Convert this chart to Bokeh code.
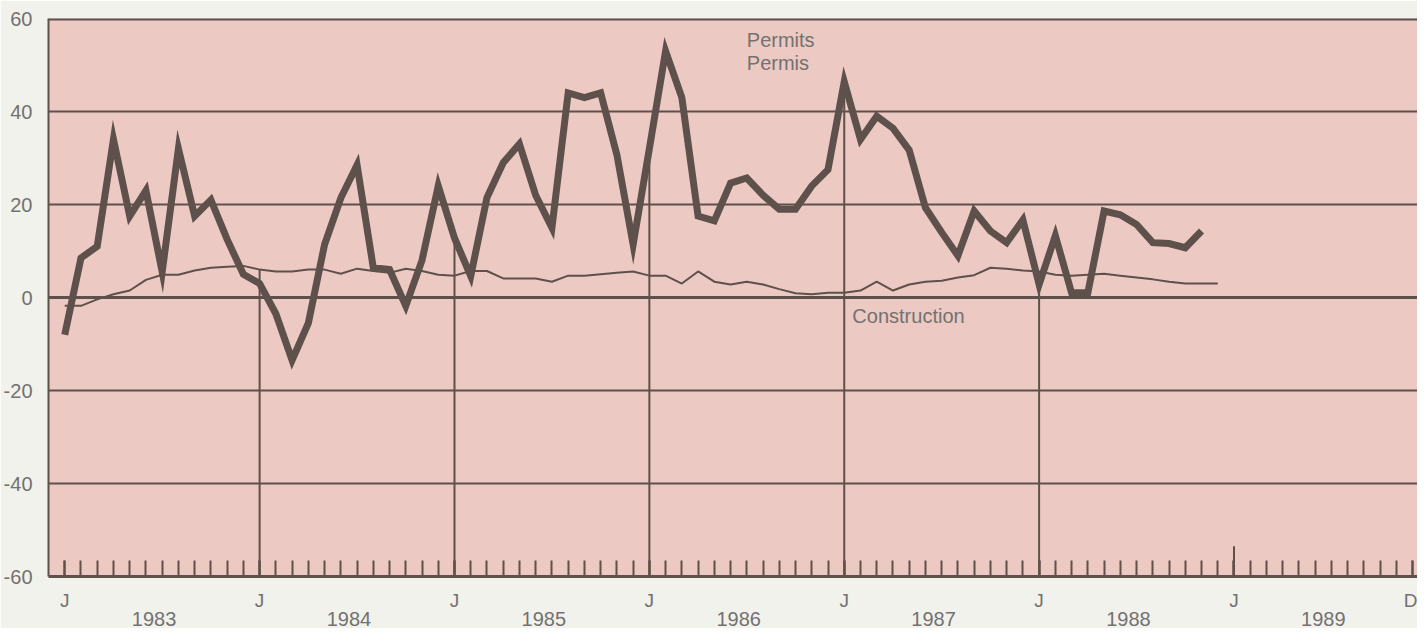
from bokeh.plotting import figure
from bokeh.models import Range1d, FixedTicker, LinearAxis, Span
from bokeh.core.properties import value
from bokeh.embed import file_html
from bokeh.resources import INLINE

# month index 0 = Jan 1983
permits = [-8, 8.5, 11, 34, 17.5, 23, 5.5, 32, 17.5, 21, 12.5, 5,
           3, -3.5, -13.5, -5.5, 11.4, 21.4, 28.5, 6.4, 6, -1.8, 8, 24,
           12.8, 4.6, 21.5, 29, 33, 22, 15, 44, 43, 44, 30.7, 11.4,
           32, 53, 43, 17.5, 16.5, 24.6, 25.7, 22, 19, 19, 24, 27.5,
           46.4, 34, 39, 36.4, 31.7, 19.3, 14, 9, 18.6, 14.3, 11.8, 16.7,
           2.8, 13.3, 1, 1, 18.6, 17.8, 15.7, 11.8, 11.6, 10.7, 14.3]
construction = [-1.8, -1.8, -0.4, 0.7, 1.5, 3.8, 4.9, 4.9, 5.8, 6.4, 6.6, 6.8,
                6, 5.6, 5.6, 6, 6, 5.1, 6.2, 5.7, 5.3, 6.2, 5.7, 4.9,
                4.7, 5.7, 5.7, 4.1, 4.1, 4.1, 3.4, 4.7, 4.7, 5, 5.3, 5.6,
                4.7, 4.7, 3, 5.6, 3.4, 2.8, 3.4, 2.8, 1.8, 0.9, 0.7, 1,
                1, 1.5, 3.4, 1.5, 2.8, 3.4, 3.6, 4.3, 4.8, 6.4, 6.2, 5.8,
                5.6, 4.9, 4.7, 4.9, 5.1, 4.7, 4.3, 3.9, 3.4, 3, 3, 3]
years = ["1983", "1984", "1985", "1986", "1987", "1988", "1989"]
month_ticks = list(range(84))
jan_ticks = [0, 12, 24, 36, 48, 60, 72]
jan_labels = ["J", "J", "J", "J", "J", "J", "J"]
end_tick = 83
end_label = "D"
y_ticks = [-60, -40, -20, 0, 20, 40, 60]
y_labels = ["-60", "-40", "-20", "0", "20", "40", "60"]
grid_levels = [-40, -20, 20, 40]

DARK = "#5e514b"
TXT = "#737171"
PINK = "#ecc9c2"
PAPER = "#f1f2ec"
FONT = "Liberation Sans"

p = figure(width=1417, height=628, output_backend="svg", toolbar_location=None,
           x_range=Range1d(-1, 83.3), y_range=Range1d(-60, 60),
           min_border_left=47, min_border_right=0, min_border_top=18, min_border_bottom=50)
p.background_fill_color = PINK
p.border_fill_color = PAPER
p.outline_line_color = None

# y axis
ya = p.yaxis[0]
ya.ticker = FixedTicker(ticks=y_ticks)
ya.major_label_overrides = {t: l for t, l in zip(y_ticks, y_labels)}
ya.major_label_text_font = FONT
ya.major_label_text_font_size = "20px"
ya.major_label_text_color = TXT
ya.major_tick_line_color = None
ya.minor_tick_line_color = None
ya.axis_line_color = DARK
ya.axis_line_width = 2
ya.major_label_standoff = 10

# x axis: J / D row with monthly ticks inside the frame
xa = p.xaxis[0]
xa.ticker = FixedTicker(ticks=jan_ticks + [end_tick], minor_ticks=month_ticks)
xa.major_label_overrides = {**{t: l for t, l in zip(jan_ticks, jan_labels)}, end_tick: end_label}
xa.major_label_text_font = FONT
xa.major_label_text_font_size = "19px"
xa.major_label_text_color = TXT
xa.major_tick_in = 16
xa.major_tick_out = 0
xa.minor_tick_in = 16
xa.minor_tick_out = 0
xa.major_tick_line_color = DARK
xa.minor_tick_line_color = DARK
xa.major_tick_line_width = 2
xa.minor_tick_line_width = 2
xa.axis_line_color = DARK
xa.axis_line_width = 3
xa.major_label_standoff = 13

# year row
year_pos = [12 * i + 5.5 for i in range(len(years))]
ya2 = LinearAxis(ticker=FixedTicker(ticks=year_pos),
                 major_label_overrides={t: y for t, y in zip(year_pos, years)})
ya2.major_label_text_font = FONT
ya2.major_label_text_font_size = "20px"
ya2.major_label_text_color = TXT
ya2.major_tick_line_color = None
ya2.minor_tick_line_color = None
ya2.axis_line_color = None
ya2.major_label_standoff = -8
p.add_layout(ya2, "below")

# grid
p.xgrid.visible = False
p.ygrid.ticker = FixedTicker(ticks=grid_levels)
p.ygrid.grid_line_color = DARK
p.ygrid.grid_line_width = 2
p.add_layout(Span(location=0, dimension="width", line_color=DARK, line_width=3, level="underlay"))
p.add_layout(Span(location=60, dimension="width", line_color=DARK, line_width=4, level="underlay"))

# vertical January lines up to the series
jl = jan_ticks[1:6]
p.segment(x0=jl, y0=[-60] * len(jl), x1=jl,
          y1=[max(permits[i], construction[i]) for i in jl],
          line_color=DARK, line_width=2)
# taller tick at Jan 1989
p.segment(x0=[jan_ticks[6]], y0=[-60], x1=[jan_ticks[6]], y1=[-53.5], line_color=DARK, line_width=2)

p.line(list(range(len(construction))), construction, line_color=DARK, line_width=2)
p.line(list(range(len(permits))), permits, line_color=DARK, line_width=7, line_join="miter")

p.text(x=[42, 42], y=[55.3, 50.4], text=["Permits", "Permis"],
       text_font=value(FONT), text_font_size="20px", text_color=TXT,
       text_baseline="middle", text_align="left")
p.text(x=[48.5], y=[-4], text=["Construction"],
       text_font=value(FONT), text_font_size="20px", text_color=TXT,
       text_baseline="middle", text_align="left")

html = file_html(p, INLINE)
html = html.replace("<body>", '<body style="background-color: %s;">' % PAPER, 1)
open("out.html", "w").write(html)
